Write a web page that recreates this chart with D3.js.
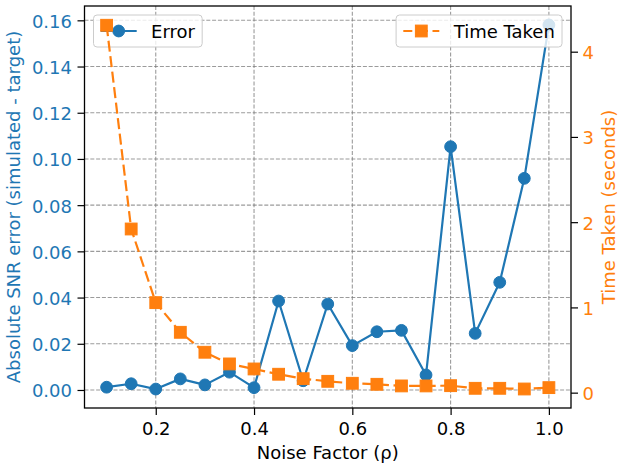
<!DOCTYPE html>
<html>
<head>
<meta charset="utf-8">
<script src="https://cdn.jsdelivr.net/npm/d3@7"></script>
<style>
  body { margin: 0; background: #fff; }
  svg { display: block; font-family: "DejaVu Sans", sans-serif; }
</style>
</head>
<body>
<div id="chart"></div>
<script>
// noise factor values (x)
var noise = [0.1, 0.15, 0.2, 0.25, 0.3, 0.35, 0.4, 0.45, 0.5, 0.55, 0.6, 0.65, 0.7, 0.75, 0.8, 0.85, 0.9, 0.95, 1.0];
// absolute SNR error (left axis)
var errorVals = [0.0012, 0.0027, 0.0004, 0.0048, 0.0022, 0.0077, 0.0010, 0.0385, 0.0040, 0.0372, 0.0192, 0.0252, 0.0258, 0.0065, 0.1053, 0.0245, 0.0466, 0.0916, 0.1580];
// time taken in seconds (right axis)
var timeVals = [4.31, 1.92, 1.056, 0.708, 0.474, 0.337, 0.278, 0.216, 0.164, 0.133, 0.110, 0.098, 0.079, 0.079, 0.082, 0.051, 0.051, 0.043, 0.059];

var xTicks = [0.2, 0.4, 0.6, 0.8, 1.0];
var leftTicks = [0.00, 0.02, 0.04, 0.06, 0.08, 0.10, 0.12, 0.14, 0.16];
var rightTicks = [0, 1, 2, 3, 4];

var blue = "#1f77b4", orange = "#ff7f0e";
var W = 624, H = 468;
var L = 84.5, R = 571, T = 6, B = 408;
var tickFs = 18, mr = 5.9, lw = 2.2, dash = "11,4.6";

var svg = d3.select("#chart").append("svg").attr("width", W).attr("height", H);

var x = d3.scaleLinear().domain([0.055, 1.045]).range([L, R]);
var yL = d3.scaleLinear().domain([-0.0078, 0.1662]).range([B, T]);
var yR = d3.scaleLinear().domain([-0.18, 4.536]).range([B, T]);

// grid
var grid = svg.append("g").attr("stroke", "#7a7a7a").attr("stroke-opacity", 0.75)
  .attr("stroke-width", 1.1).attr("stroke-dasharray", "4,1.8");
grid.selectAll(".gx").data(xTicks).enter().append("line")
  .attr("x1", function(d){ return x(d); }).attr("x2", function(d){ return x(d); })
  .attr("y1", T).attr("y2", B);
grid.selectAll(".gy").data(leftTicks).enter().append("line")
  .attr("x1", L).attr("x2", R)
  .attr("y1", function(d){ return yL(d); }).attr("y2", function(d){ return yL(d); });

// axes
var gx = svg.append("g").attr("transform", "translate(0," + B + ")")
  .call(d3.axisBottom(x).tickValues(xTicks).tickFormat(d3.format(".1f")).tickSize(7).tickSizeOuter(0));
gx.selectAll("text").attr("font-size", tickFs).attr("fill", "#000").attr("dy", null).attr("y", 26.5);

var gl = svg.append("g").attr("transform", "translate(" + L + ",0)")
  .call(d3.axisLeft(yL).tickValues(leftTicks).tickFormat(d3.format(".2f")).tickSize(7).tickSizeOuter(0));
gl.selectAll("text").attr("font-size", tickFs).attr("fill", blue).attr("dy", null).attr("y", 7).attr("x", -12.5);

var gr = svg.append("g").attr("transform", "translate(" + R + ",0)")
  .call(d3.axisRight(yR).tickValues(rightTicks).tickFormat(d3.format("d")).tickSize(7).tickSizeOuter(0));
gr.selectAll("text").attr("font-size", tickFs).attr("fill", orange).attr("dy", null).attr("y", 7).attr("x", 11.5);

[gx, gl, gr].forEach(function(g){
  g.attr("font-family", null);
  g.select(".domain").remove();
  g.selectAll(".tick line").attr("stroke", "#000").attr("stroke-width", 1.2);
});

// frame
svg.append("rect").attr("x", L).attr("y", T).attr("width", R - L).attr("height", B - T)
  .attr("fill", "none").attr("stroke", "#000").attr("stroke-width", 1.3);

// axis titles
svg.append("text").attr("x", (L + R) / 2).attr("y", 459).attr("text-anchor", "middle")
  .attr("font-size", 18).text("Noise Factor (ρ)");
svg.append("text").attr("transform", "translate(20," + (T + B) / 2 + ") rotate(-90)")
  .attr("text-anchor", "middle").attr("font-size", 18).attr("fill", blue)
  .text("Absolute SNR error (simulated - target)");
svg.append("text").attr("transform", "translate(615," + (T + B) / 2 + ") rotate(-90)")
  .attr("text-anchor", "middle").attr("font-size", 18).attr("fill", orange)
  .text("Time Taken (seconds)");

// error series
var errLine = d3.line().x(function(d, i){ return x(noise[i]); }).y(function(d){ return yL(d); });
svg.append("path").datum(errorVals).attr("d", errLine)
  .attr("fill", "none").attr("stroke", blue).attr("stroke-width", lw).attr("stroke-linejoin", "round");
svg.selectAll(".errpt").data(errorVals).enter().append("circle")
  .attr("cx", function(d, i){ return x(noise[i]); }).attr("cy", function(d){ return yL(d); })
  .attr("r", mr).attr("fill", blue).attr("stroke", blue).attr("stroke-width", 1);

function legend(label, color, dashed, marker, side) {
  var g = svg.append("g");
  var fs = 18, pad = 7.2, hl = 36, htp = 14.4;
  var box = g.append("rect");
  var txt = g.append("text").attr("font-size", fs).attr("fill", "#000").text(label);
  var tw = txt.node().getComputedTextLength();
  var w = pad + hl + htp + tw + pad, h = 32;
  var x0 = side == "left" ? L + 9 : R - 9 - w, y0 = T + 9, cy = y0 + h / 2;
  box.attr("x", x0).attr("y", y0).attr("width", w).attr("height", h).attr("rx", 3.5)
    .attr("fill", "#fff").attr("fill-opacity", 0.8).attr("stroke", "#cccccc").attr("stroke-width", 1);
  txt.attr("x", x0 + pad + hl + htp).attr("y", cy + 7.3);
  g.append("line").attr("x1", x0 + pad).attr("x2", x0 + pad + hl).attr("y1", cy).attr("y2", cy)
    .attr("stroke", color).attr("stroke-width", lw).attr("stroke-dasharray", dashed ? dash : null)
    .attr("stroke-dashoffset", dashed ? 2 : null);
  var mx = x0 + pad + hl / 2;
  if (marker == "circle") {
    g.append("circle").attr("cx", mx).attr("cy", cy).attr("r", mr).attr("fill", color).attr("stroke", color);
  } else {
    g.append("rect").attr("x", mx - mr).attr("y", cy - mr).attr("width", 2 * mr).attr("height", 2 * mr)
      .attr("fill", color).attr("stroke", color);
  }
}
legend("Error", blue, false, "circle", "left");

// time series (twin axis, drawn above)
var timeLine = d3.line().x(function(d, i){ return x(noise[i]); }).y(function(d){ return yR(d); });
svg.append("path").datum(timeVals).attr("d", timeLine)
  .attr("fill", "none").attr("stroke", orange).attr("stroke-width", lw).attr("stroke-dasharray", dash);
svg.selectAll(".timept").data(timeVals).enter().append("rect")
  .attr("x", function(d, i){ return x(noise[i]) - mr; }).attr("y", function(d){ return yR(d) - mr; })
  .attr("width", 2 * mr).attr("height", 2 * mr).attr("fill", orange).attr("stroke", orange).attr("stroke-width", 1);

legend("Time Taken", orange, true, "square", "right");
</script>
</body>
</html>
